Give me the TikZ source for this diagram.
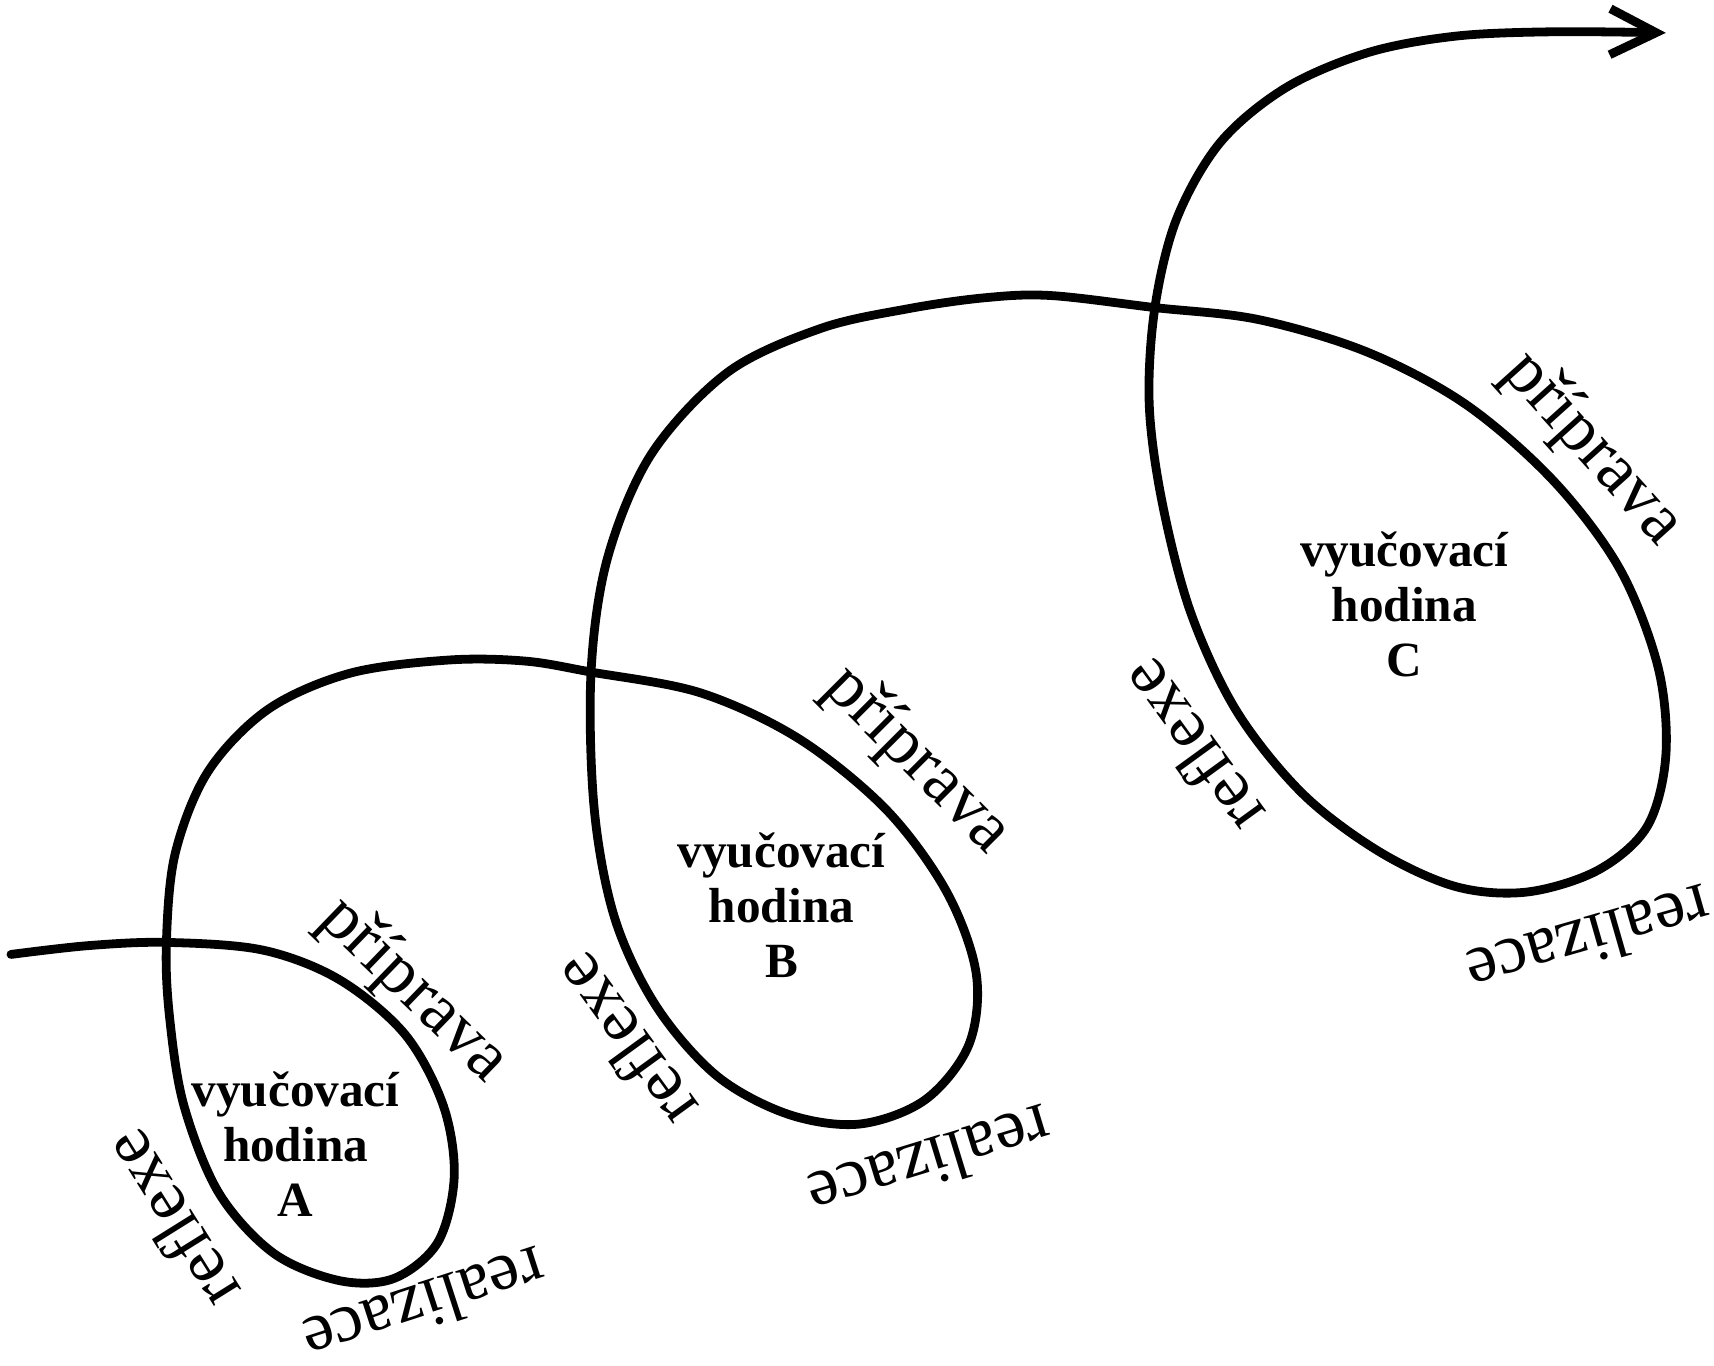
\documentclass[tikz,border=0pt]{standalone}
\usepackage{fontspec}
\setmainfont{Liberation Serif}
\usetikzlibrary{arrows.meta}
\begin{document}
\begin{tikzpicture}[x=0.010945cm,y=-0.010945cm,
  lbl/.style={font=\fontsize{20}{24}\selectfont, inner sep=0pt},
  ctr/.style={font=\fontsize{14}{15.6}\selectfont\bfseries, align=center, inner sep=0pt},
  spiral/.style={line width=2.5pt, line cap=round, line join=round}]
\useasboundingbox (0,0) rectangle (1566,1248);
\fill[white] (0,0) rectangle (1566,1248);
\draw[spiral, -{Straight Barb[length=0.46cm,width=0.46cm]}] plot[smooth, tension=0.55] coordinates {
 (10,872) (80,864) (152,861) (240,868) (310,895) (370,945) (405,1010) (415,1075)
 (400,1135) (360,1168) (310,1170) (250,1145) (200,1090) (168,1010) (155,930)
 (152,862) (160,780) (190,705) (245,648) (320,615) (410,603) (480,604) (540,614)
 (640,633) (730,675) (810,740) (865,815) (892,890) (885,955) (845,1005) (785,1027)
 (720,1018) (655,983) (600,920) (562,840) (543,740) (540,614) (555,510) (595,415)
 (665,340) (750,300) (830,282) (900,272) (960,270) (1055,281)
 (1150,292) (1250,322) (1340,370) (1420,440) (1480,520) (1515,610) (1522,690)
 (1505,755) (1460,795) (1395,815) (1330,810) (1260,778) (1190,725) (1130,650)
 (1088,560) (1062,460) (1050,370) (1055,282) (1075,200) (1115,130) (1175,80)
 (1250,48) (1330,33) (1420,29) (1522,30)};
% hour A
\node[ctr] (hA) at (270,1045) {vyučovací\\hodina\\A};
\node[lbl, rotate=-44] (pA) at (378,905) {příprava};
\node[lbl, rotate=122] (rA) at (155,1115) {reflexe};
\node[lbl, rotate=198] (zA) at (388,1194) {realizace};
% hour B
\node[ctr] (hB) at (714,827) {vyučovací\\hodina\\B};
\node[lbl, rotate=-45] (pB) at (838,695) {příprava};
\node[lbl, rotate=126] (rB) at (570,952) {reflexe};
\node[lbl, rotate=197] (zB) at (850,1063) {realizace};
% hour C
\node[ctr] (hC) at (1283,552) {vyučovací\\hodina\\C};
\node[lbl, rotate=-48] (pC) at (1455,410) {příprava};
\node[lbl, rotate=126] (rC) at (1088,683) {reflexe};
\node[lbl, rotate=196] (zC) at (1452,860) {realizace};
\end{tikzpicture}
\end{document}
